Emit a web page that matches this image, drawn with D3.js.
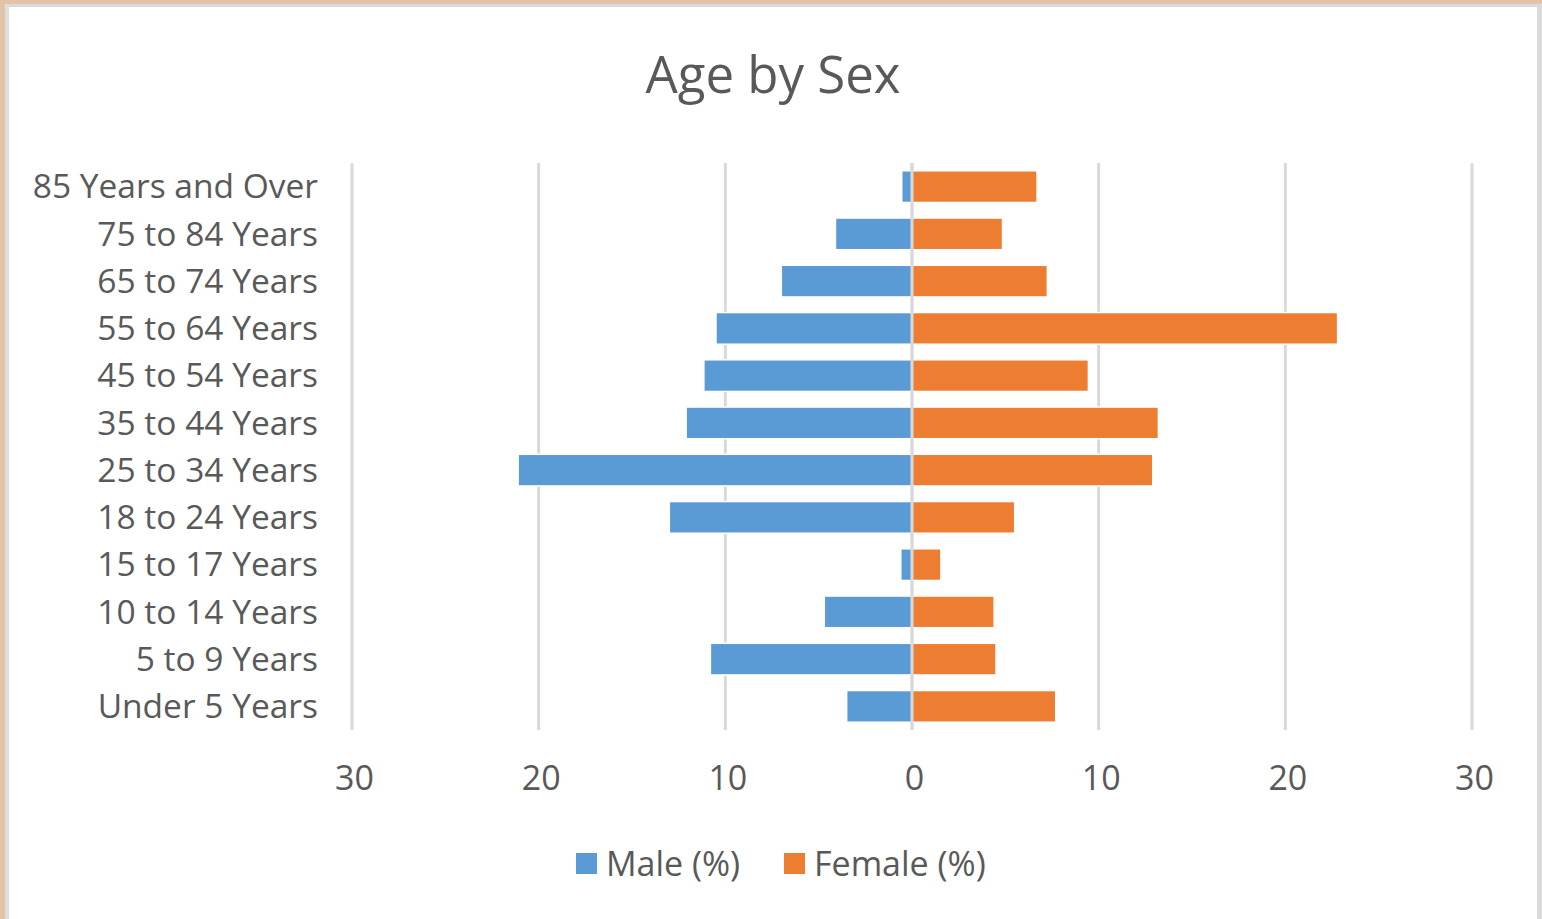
<!DOCTYPE html>
<html>
<head>
<meta charset="utf-8">
<script src="https://cdn.jsdelivr.net/npm/d3@7"></script>
<style>
  body { margin: 0; background: #fff; }
  svg text { font-family: "Open Sans", sans-serif; fill: #595959; }
</style>
</head>
<body>
<div id="chart"></div>
<script>
const categories = [
    "85 Years and Over", "75 to 84 Years", "65 to 74 Years", "55 to 64 Years",
    "45 to 54 Years", "35 to 44 Years", "25 to 34 Years", "18 to 24 Years",
    "15 to 17 Years", "10 to 14 Years", "5 to 9 Years", "Under 5 Years"
];
const maleValues = [0.55, 4.1, 7.0, 10.5, 11.15, 12.1, 21.1, 13.0, 0.6, 4.7, 10.8, 3.5];
const femaleValues = [6.7, 4.85, 7.25, 22.8, 9.45, 13.2, 12.9, 5.5, 1.55, 4.4, 4.5, 7.7];
const tickValues = [-30, -20, -10, 0, 10, 20, 30];
const seriesNames = ["Male (%)", "Female (%)"];

document.addEventListener("DOMContentLoaded", () => {
    const width = 1542, height = 919;
    const plotLeft = 352, plotRight = 1472, plotTop = 163, plotBottom = 730;
    const maleColor = "#5b9bd5", femaleColor = "#ed7d31", gridColor = "#d9d9d9";

    const svg = d3.select("#chart")
        .append("svg")
        .attr("width", width)
        .attr("height", height);

    // frame: tan edge + grey inner line like the screenshot
    svg.append("rect").attr("width", width).attr("height", height).attr("fill", "#fff");
    svg.append("rect").attr("x", 0).attr("y", 0).attr("width", width).attr("height", 4).attr("fill", "#e2c3a7");
    svg.append("rect").attr("x", 0).attr("y", 0).attr("width", 5).attr("height", height).attr("fill", "#e2c3a7");
    svg.append("rect").attr("x", 5).attr("y", 4).attr("width", width - 5).attr("height", 3).attr("fill", "#dadada");
    svg.append("rect").attr("x", 5).attr("y", 4).attr("width", 4).attr("height", height).attr("fill", "#dedede");
    svg.append("rect").attr("x", 1537).attr("y", 4).attr("width", 5).attr("height", height).attr("fill", "#dadada");

    const x = d3.scaleLinear().domain([-30, 30]).range([plotLeft, plotRight]);
    const y = d3.scaleBand()
        .domain(categories)
        .range([plotTop, plotBottom])
        .paddingInner(0.33)
        .paddingOuter(0.165);

    // vertical gridlines
    svg.append("g")
        .selectAll("line")
        .data(tickValues)
        .enter()
        .append("line")
        .attr("x1", d => x(d)).attr("x2", d => x(d))
        .attr("y1", plotTop).attr("y2", plotBottom)
        .attr("stroke", gridColor)
        .attr("stroke-width", 3);

    // male bars go left (negative), female bars go right
    svg.append("g")
        .selectAll("rect")
        .data(categories)
        .enter()
        .append("rect")
        .attr("x", (d, i) => x(-maleValues[i]))
        .attr("y", d => y(d))
        .attr("width", (d, i) => x(0) - x(-maleValues[i]))
        .attr("height", y.bandwidth())
        .attr("fill", maleColor)
        .attr("stroke", "#fff")
        .attr("stroke-width", 1.5);

    svg.append("g")
        .selectAll("rect")
        .data(categories)
        .enter()
        .append("rect")
        .attr("x", x(0))
        .attr("y", d => y(d))
        .attr("width", (d, i) => x(femaleValues[i]) - x(0))
        .attr("height", y.bandwidth())
        .attr("fill", femaleColor)
        .attr("stroke", "#fff")
        .attr("stroke-width", 1.5);

    // zero line sits between the two sides
    svg.append("line")
        .attr("x1", x(0)).attr("x2", x(0))
        .attr("y1", plotTop).attr("y2", plotBottom)
        .attr("stroke", gridColor)
        .attr("stroke-width", 3);

    // category labels
    const yAxis = svg.append("g")
        .attr("transform", `translate(${plotLeft - 34},0)`)
        .call(d3.axisLeft(y).tickSize(0).tickPadding(0));
    yAxis.select(".domain").remove();
    yAxis.selectAll("text")
        .attr("font-size", 33.5)
        .attr("font-family", null)
        .attr("dy", "0.35em");

    // value axis, absolute values on both sides
    const xAxis = svg.append("g")
        .attr("transform", `translate(0,${plotBottom})`)
        .call(d3.axisBottom(x).tickValues(tickValues).tickFormat(d => Math.abs(d)).tickSize(0).tickPadding(0));
    xAxis.select(".domain").remove();
    xAxis.selectAll("text")
        .attr("font-size", 34)
        .attr("font-family", null)
        .attr("x", 2)
        .attr("y", 48)
        .attr("dy", "0.35em");

    // title
    svg.append("text")
        .attr("x", 773)
        .attr("y", 93)
        .attr("text-anchor", "middle")
        .attr("font-size", 51)
        .text("Age by Sex");

    // legend
    const legendX = [576, 784];
    const legend = svg.append("g")
        .selectAll("g")
        .data(seriesNames)
        .enter()
        .append("g")
        .attr("transform", (d, i) => `translate(${legendX[i]},853)`);
    legend.append("rect")
        .attr("width", 21)
        .attr("height", 21)
        .attr("fill", (d, i) => i === 0 ? maleColor : femaleColor);
    legend.append("text")
        .attr("x", 30)
        .attr("y", 11)
        .attr("dy", "0.35em")
        .attr("font-size", 34)
        .text(d => d);
});
</script>
</body>
</html>
